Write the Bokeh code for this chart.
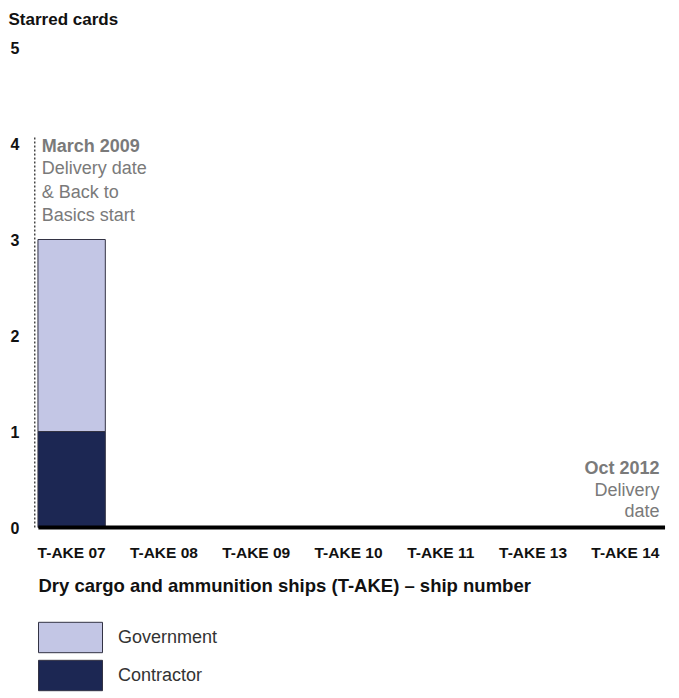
from bokeh.plotting import figure
from bokeh.layouts import column
from bokeh.models import (ColumnDataSource, FactorRange, Range1d, FixedTicker, Legend,
                          LegendItem, Title)
from bokeh.core.properties import value
from bokeh.embed import file_html
from bokeh.resources import INLINE

# ---- data ----
ships = ["T-AKE 07", "T-AKE 08", "T-AKE 09", "T-AKE 10", "T-AKE 11", "T-AKE 13", "T-AKE 14"]
contractor = [1, 0, 0, 0, 0, 0, 0]
government = [2, 0, 0, 0, 0, 0, 0]
y_ticks = [0, 1, 2, 3, 4, 5]

FONT = "Liberation Sans"
NAVY = "#1c2753"
LAV = "#c3c6e5"
GREY = "#7a7a7a"
EDGE = "#333344"

source = ColumnDataSource(dict(ship=ships, contractor=contractor, government=government))
xr = FactorRange(*ships, range_padding=0)

p = figure(frame_width=646, frame_height=495, x_range=xr,
           y_range=Range1d(-0.031, 5.125), output_backend="svg", toolbar_location=None,
           min_border_left=25, min_border_right=0, min_border_top=0, min_border_bottom=0)

p.title.text = "Starred cards"
p.title.text_font = FONT
p.title.text_font_size = "17px"
p.title.text_font_style = "bold"
p.title.text_color = "#111111"
p.title.align = "left"
p.title.offset = -17
p.title.standoff = 14

p.outline_line_color = None
p.grid.visible = False
for ax in (p.xaxis[0], p.yaxis[0]):
    ax.axis_line_color = None
    ax.major_tick_line_color = None
    ax.minor_tick_line_color = None
    ax.major_tick_out = 0
    ax.major_tick_in = 0
    ax.minor_tick_out = 0
    ax.major_label_text_font = FONT
    ax.major_label_text_font_style = "bold"
    ax.major_label_text_color = "#111111"

p.yaxis.ticker = FixedTicker(ticks=y_ticks)
p.yaxis.major_label_text_font_size = "16px"
p.yaxis.major_label_standoff = 6
p.xaxis.major_label_text_font_size = "15.5px"
p.xaxis.major_label_standoff = 13

renderers = p.vbar_stack(["contractor", "government"], x="ship", width=0.73,
                         fill_color=[NAVY, LAV], line_color=EDGE, line_width=1,
                         source=source)

# baseline
p.segment(x0=[("T-AKE 07", -0.36)], x1=[("T-AKE 14", 0.43)], y0=[0], y1=[0],
          line_color="#000000", line_width=4)

# dotted marker line
p.segment(x0=[("T-AKE 07", -0.40)], x1=[("T-AKE 07", -0.40)], y0=[0], y1=[4.08],
          line_color="#444444", line_width=1.5, line_dash="2 2")

# annotations
p.text(x=[("T-AKE 07", -0.325)], y=[3.979], text=["March 2009"], text_font=value(FONT),
       text_font_size="18px", text_font_style="bold", text_color=GREY,
       text_baseline="middle", text_align="left")
p.text(x=[("T-AKE 07", -0.325)] * 3, y=[3.74, 3.50, 3.26],
       text=["Delivery date", "& Back to", "Basics start"], text_font=value(FONT),
       text_font_size="18px", text_color=GREY, text_baseline="middle", text_align="left")
p.text(x=[("T-AKE 14", 0.37)], y=[0.625], text=["Oct 2012"], text_font=value(FONT),
       text_font_size="18px", text_font_style="bold", text_color=GREY,
       text_baseline="middle", text_align="right")
p.text(x=[("T-AKE 14", 0.37)] * 2, y=[0.396, 0.177], text=["Delivery", "date"],
       text_font=value(FONT), text_font_size="18px", text_color=GREY,
       text_baseline="middle", text_align="right")

# x axis title (left aligned)
xt = Title(text="Dry cargo and ammunition ships (T-AKE) \u2013 ship number", align="left",
           offset=13, text_font=FONT, text_font_size="18.5px", text_font_style="bold",
           text_color="#111111", standoff=19)
p.add_layout(xt, "below")

# ---- legend strip below the chart ----
p2 = figure(frame_width=663, frame_height=89, x_range=xr, y_range=Range1d(100, 101),
            x_axis_type=None, y_axis_type=None, output_backend="svg", toolbar_location=None,
            min_border=0, outline_line_color=None)
p2.grid.visible = False
lr = p2.vbar_stack(["contractor", "government"], x="ship", width=0.73,
                   fill_color=[NAVY, LAV], line_color=EDGE, line_width=1, source=source)
legend = Legend(items=[LegendItem(label="Government", renderers=[lr[1]]),
                       LegendItem(label="Contractor", renderers=[lr[0]])],
                location=(30, 0), orientation="vertical",
                glyph_width=80, glyph_height=38, spacing=0, label_standoff=8,
                label_text_font=FONT, label_text_font_size="18px", label_text_color="#333333",
                border_line_color=None, background_fill_alpha=0, margin=0, padding=0)
p2.add_layout(legend, "center")

layout = column(p, p2, spacing=0)
open("out.html", "w").write(file_html(layout, INLINE))
